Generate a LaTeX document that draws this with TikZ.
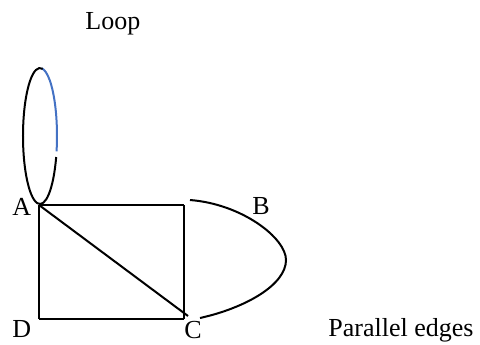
\documentclass[tikz,border=0pt]{standalone}
\usepackage{fontspec}
\setmainfont{Liberation Serif}
\usepackage{xcolor}
\usepackage{tikz}
\usetikzlibrary{calc}
\definecolor{loopblue}{RGB}{68,114,196}
\tikzset{
  lbl/.style={anchor=base west, inner sep=0pt, font=\fontsize{13}{15}\selectfont},
  edge/.style={draw=black, line width=1pt},
  bedge/.style={draw=loopblue, line width=1pt},
}

\begin{document}
\begin{tikzpicture}[x=0.5pt, y=-0.5pt]
  \useasboundingbox (0,0) rectangle (480,344);
  % vertices
  \coordinate (A) at (39,205);
  \coordinate (B) at (184,205);
  \coordinate (C) at (184,319);
  \coordinate (D) at (39,319);
  \coordinate (Ce) at (188,316);
  \coordinate (Bs) at (190,200);
  \coordinate (Bm) at (286,260);
  \coordinate (Cs) at (200,318);
  \coordinate (L) at (40,136);
  % labels
  \node[lbl] (loop) at (85,29) {Loop};
  \node[lbl] (la) at (12,215) {A};
  \node[lbl] (lb) at (252,214) {B};
  \node[lbl] (ld) at (12,337) {D};
  \node[lbl] (lc) at (184,338) {C};
  \node[lbl] (par) at (328,336) {Parallel edges};
  % edges
  \foreach \a/\b in {A/B,B/C,C/D,D/A,A/Ce}
    \draw[edge] (\a)--(\b);
  \draw[edge] (Bs) .. controls (242,204) and (286,238) .. (Bm)
                   .. controls (286,285) and (245,308) .. (Cs);
  % loop at A
  \draw[bedge] ($(L)+(275:17 and 68)$) arc[start angle=275, end angle=373, x radius=17, y radius=68];
  \draw[edge] ($(L)+(279:17 and 68)$) arc[start angle=279, end angle=18, x radius=17, y radius=68];
\end{tikzpicture}
\end{document}
